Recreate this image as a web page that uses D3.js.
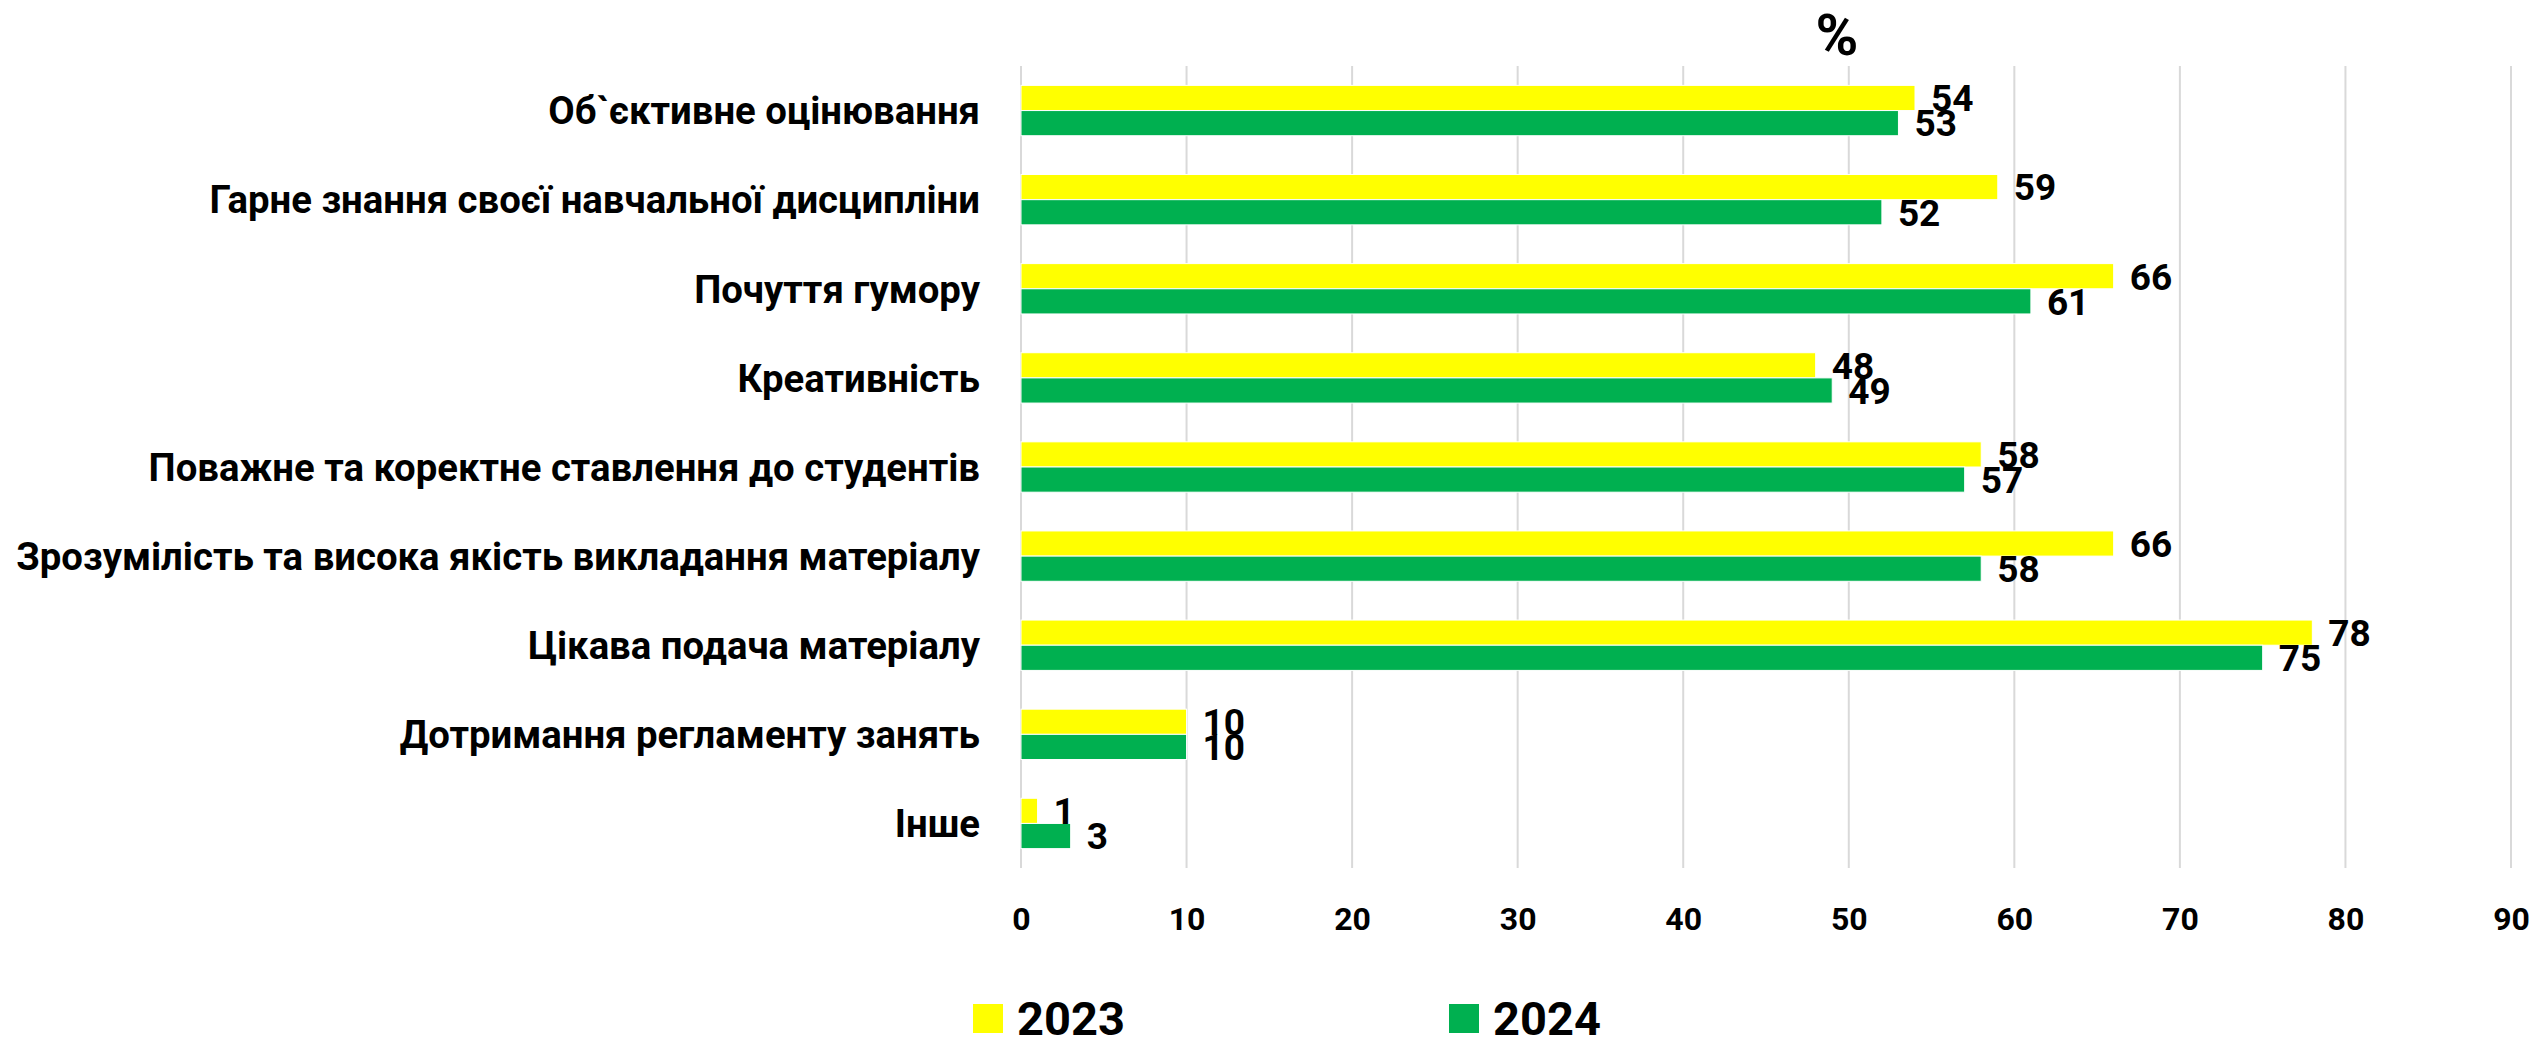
<!DOCTYPE html>
<meta charset="utf-8">
<style>
body { margin: 0; background: #fff; }
text { font-family: Roboto, "Open Sans", sans-serif; font-weight: bold; fill: #000; }
.grid line { stroke: #d9d9d9; stroke-width: 2; }
</style>
<script src="https://d3js.org/d3.v7.min.js"></script>
<svg id="chart" width="2539" height="1039"></svg>
<script>

var categories = [
  "Об`єктивне оцінювання",
  "Гарне знання своєї навчальної дисципліни",
  "Почуття гумору",
  "Креативність",
  "Поважне та коректне ставлення до студентів",
  "Зрозумілість та висока якість викладання матеріалу",
  "Цікава подача матеріалу",
  "Дотримання регламенту занять",
  "Інше"
];
var years = ["2023", "2024"];
var values2023 = [54, 59, 66, 48, 58, 66, 78, 10, 1];
var values2024 = [53, 52, 61, 49, 57, 58, 75, 10, 3];
var xTicks = [0, 10, 20, 30, 40, 50, 60, 70, 80, 90];
var unitLabel = "%";

var colors = { "2023": "#ffff00", "2024": "#00b050" };

var svg = d3.select("svg#chart");

var x = d3.scaleLinear().domain([0, 90]).range([1021, 2511]);

var y = d3.scaleBand()
    .domain(categories)
    .range([66, 868])
    .paddingInner(0.435)
    .paddingOuter(0.2175);

var ySeries = d3.scaleBand().domain(years).range([0, y.bandwidth()]);

var rows = categories.map(function(c, i) {
  return { cat: c, vals: [ { year: "2023", v: values2023[i] }, { year: "2024", v: values2024[i] } ] };
});

// gridlines
svg.append("g")
    .attr("class", "grid")
  .selectAll("line")
  .data(xTicks)
  .enter().append("line")
    .attr("x1", function(d) { return x(d); })
    .attr("x2", function(d) { return x(d); })
    .attr("y1", 66)
    .attr("y2", 868);

// x axis labels
var xAxis = svg.append("g")
    .attr("transform", "translate(0,907)")
    .call(d3.axisBottom(x).tickValues(xTicks).tickSize(0).tickPadding(0));
xAxis.select(".domain").remove();
xAxis.selectAll("text")
    .attr("font-size", 32)
    .attr("font-family", null)
    .attr("dy", "0.72em");

// bars
var group = svg.append("g").selectAll("g")
  .data(rows)
  .enter().append("g")
    .attr("transform", function(d) { return "translate(0," + y(d.cat) + ")"; });

group.selectAll("rect")
  .data(function(d) { return d.vals; })
  .enter().append("rect")
    .attr("x", x(0))
    .attr("y", function(d) { return ySeries(d.year); })
    .attr("width", function(d) { return x(d.v) - x(0); })
    .attr("height", ySeries.bandwidth())
    .attr("fill", function(d) { return colors[d.year]; })
    .attr("stroke", "#fff")
    .attr("stroke-width", 1);

group.selectAll("text.val")
  .data(function(d) { return d.vals; })
  .enter().append("text")
    .attr("class", "val")
    .attr("x", function(d) { return x(d.v) + 16; })
    .attr("y", function(d) { return ySeries(d.year) + ySeries.bandwidth() / 2; })
    .attr("dy", "0.36em")
    .attr("font-size", 37)
    .text(function(d) { return d.v; });

// category labels, sized so the longest fits its space
var catLabels = svg.append("g").selectAll("text")
  .data(categories)
  .enter().append("text")
    .attr("x", 980)
    .attr("y", function(d) { return y(d) + y.bandwidth() / 2; })
    .attr("dy", "0.36em")
    .attr("text-anchor", "end")
    .attr("font-size", 40)
    .text(function(d) { return d; });

var longest = d3.max(catLabels.nodes(), function(n) { return n.getComputedTextLength(); });
catLabels.attr("font-size", 40 * 964 / longest);

// unit title
svg.append("text")
    .attr("x", 1837)
    .attr("y", 55)
    .attr("text-anchor", "middle")
    .attr("font-size", 58)
    .text(unitLabel);

// legend
var legendX = d3.scaleOrdinal().domain(years).range([973, 1449]);
var legend = svg.append("g").selectAll("g")
  .data(years)
  .enter().append("g")
    .attr("transform", function(d) { return "translate(" + legendX(d) + ",0)"; });

legend.append("rect")
    .attr("y", 1004)
    .attr("width", 30)
    .attr("height", 29)
    .attr("fill", function(d) { return colors[d]; });

legend.append("text")
    .attr("x", 44)
    .attr("y", 1035)
    .attr("font-size", 47)
    .text(function(d) { return d; });

</script>
